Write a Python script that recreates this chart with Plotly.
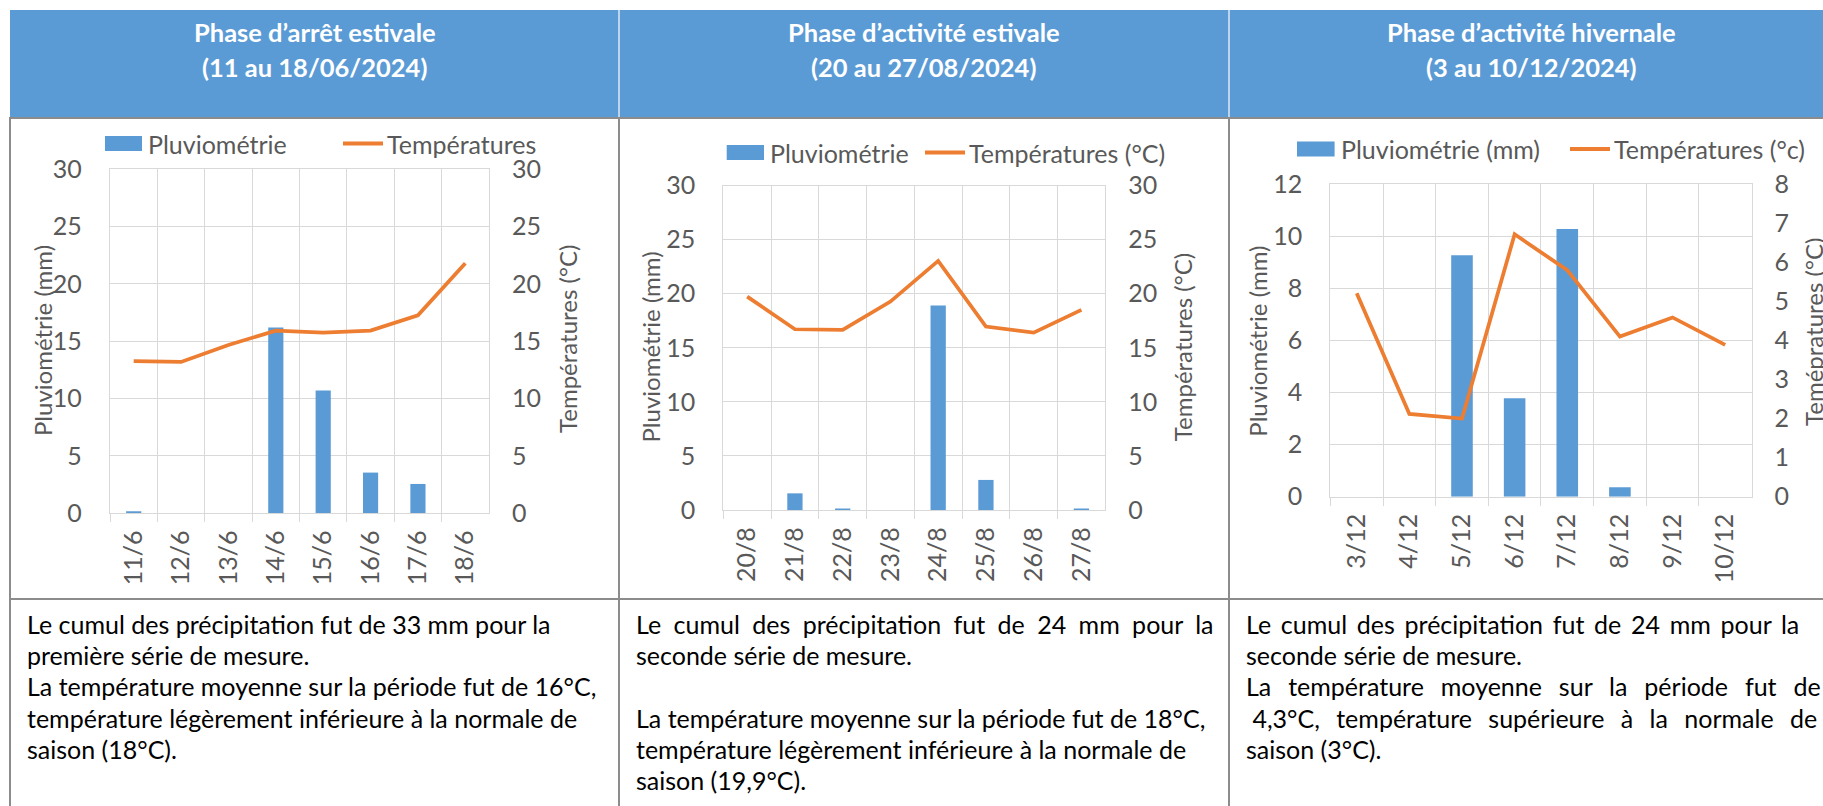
import plotly.graph_objects as go

# ---- data -------------------------------------------------------------
dates_juin = ["11/6", "12/6", "13/6", "14/6", "15/6", "16/6", "17/6", "18/6"]
pluie_juin = [0.12, 0, 0, 16.2, 10.7, 3.55, 2.56, 0]
temp_juin = [13.28, 13.2, 14.68, 15.93, 15.76, 15.93, 17.27, 21.8]

dates_aout = ["20/8", "21/8", "22/8", "23/8", "24/8", "25/8", "26/8", "27/8"]
pluie_aout = [0, 1.54, 0.12, 0, 18.9, 2.78, 0, 0.12]
temp_aout = [19.73, 16.71, 16.65, 19.27, 23.03, 16.96, 16.4, 18.5]

dates_dec = ["3/12", "4/12", "5/12", "6/12", "7/12", "8/12", "9/12", "10/12"]
pluie_dec = [0, 0, 9.27, 3.78, 10.28, 0.36, 0, 0]
temp_dec = [5.21, 2.12, 2.0, 6.72, 5.8, 4.1, 4.59, 3.89]

titres = [
    ("Phase d’arrêt estivale", "(11 au 18/06/2024)"),
    ("Phase d’activité estivale", "(20 au 27/08/2024)"),
    ("Phase d’activité hivernale", "(3 au 10/12/2024)"),
]
legendes = [
    ("Pluviométrie", "Températures"),
    ("Pluviométrie", "Températures (°C)"),
    ("Pluviométrie (mm)", "Températures (°c)"),
]
titres_axes = [
    ("Pluviométrie (mm)", "Températures (°C)"),
    ("Pluviométrie (mm)", "Températures (°C)"),
    ("Pluviométrie (mm)", "Temépratures (°C)"),
]
# (text, extra word spacing in px for justified lines)
commentaires = [
    [("Le cumul des précipitation fut de 33 mm pour la", 0),
     ("première série de mesure.", 0),
     ("La température moyenne sur la période fut de 16°C,", 0),
     ("température légèrement inférieure à la normale de", 0),
     ("saison (18°C).", 0)],
    [("Le cumul des précipitation fut de 24 mm pour la", 6.0),
     ("seconde série de mesure.", 0),
     ("", 0),
     ("La température moyenne sur la période fut de 18°C,", 0),
     ("température légèrement inférieure à la normale de", 0),
     ("saison (19,9°C).", 0)],
    [("Le cumul des précipitation fut de 24 mm pour la", 3.3),
     ("seconde série de mesure.", 0),
     ("La température moyenne sur la période fut de", 10.5),
     (" 4,3°C, température supérieure à la normale de", 10.0),
     ("saison (3°C).", 0)],
]

# ---- page geometry (pixels) -------------------------------------------
W, H = 1823, 806
FONT = "Lato"
BLEU = "#5B9BD5"
ORANGE = "#ED7D31"
GRIS_TXT = "#595959"
GRILLE = "#D9D9D9"
BORD = "#8C8C8C"
FS = 25
NBSP = "\u00a0"


def px(x):
    return x / W


def py(y):
    return 1 - y / H


def justifie(ligne, extra):
    """Widen the word gaps of a line by `extra` pixels each."""
    tete = NBSP if ligne.startswith(" ") else ""
    corps = ligne.strip()
    if extra:
        return f'{tete}<span style="word-spacing:{extra}px">{corps}</span>'
    return tete + corps


panneaux = [
    dict(dates=dates_juin, pluie=pluie_juin, temp=temp_juin,
         plot=(110, 489, 169.3, 513.3), y1=(0, 30, 5), y2=(0, 30, 5), bw=0.32,
         leg=(105, 142, 143.5, 343, 383), tit=(42, 341, 568, 339), col=(10, 619)),
    dict(dates=dates_aout, pluie=pluie_aout, temp=temp_aout,
         plot=(723.3, 1105.3, 185.5, 510), y1=(0, 30, 5), y2=(0, 30, 5), bw=0.32,
         leg=(726.7, 764, 152.5, 925, 965), tit=(650, 347.5, 1182.7, 347.5), col=(619, 1229)),
    dict(dates=dates_dec, pluie=pluie_dec, temp=temp_dec,
         plot=(1330.4, 1751.5, 184.3, 496.7), y1=(0, 12, 2), y2=(0, 8, 1), bw=0.41,
         leg=(1297, 1334.6, 149, 1570, 1610), tit=(1256.7, 341, 1813, 332), col=(1229, 1834)),
]

fig = go.Figure()
layout = dict(
    width=W, height=H, autosize=False,
    margin=dict(l=0, r=0, t=0, b=0, pad=0, autoexpand=False),
    paper_bgcolor="white", plot_bgcolor="white", showlegend=False,
    font=dict(family=FONT, color=GRIS_TXT),
)
shapes = []
annotations = []

tick_font = dict(family=FONT, size=FS, color=GRIS_TXT)

for i, p in enumerate(panneaux):
    xa = "x" if i == 0 else f"x{i + 1}"
    ya = "y" if i == 0 else f"y{2 * i + 1}"
    yb = f"y{2 * i + 2}"
    xl, xr, yt, yb_px = p["plot"]

    fig.add_trace(go.Bar(x=p["dates"], y=p["pluie"], xaxis=xa, yaxis=ya,
                         marker=dict(color=BLEU, line=dict(width=0)), width=p["bw"]))
    fig.add_trace(go.Scatter(x=p["dates"], y=p["temp"], xaxis=xa, yaxis=yb, mode="lines",
                             line=dict(color=ORANGE, width=3.75), cliponaxis=False))

    xkey = "xaxis" if i == 0 else f"xaxis{i + 1}"
    ykey = "yaxis" if i == 0 else f"yaxis{2 * i + 1}"
    ykey2 = f"yaxis{2 * i + 2}"
    layout[xkey] = dict(
        domain=[px(xl), px(xr)], anchor=ya, type="category", automargin=False,
        range=[-0.5, len(p["dates"]) - 0.5], tickson="boundaries",
        ticks="outside", ticklen=8, tickwidth=1.3, tickcolor=GRILLE,
        showgrid=True, gridcolor=GRILLE, gridwidth=1.3,
        showline=True, linecolor=GRILLE, linewidth=1.3, mirror=True,
        tickangle=-90, tickfont=tick_font, ticklabelstandoff=6, fixedrange=True,
    )
    lo, hi, step = p["y1"]
    layout[ykey] = dict(
        domain=[py(yb_px), py(yt)], anchor=xa, range=[lo, hi], dtick=step, automargin=False,
        showgrid=True, gridcolor=GRILLE, gridwidth=1.3, zeroline=False,
        showline=True, linecolor=GRILLE, linewidth=1.3, mirror=True,
        ticks="", tickfont=tick_font, ticklabelstandoff=22, fixedrange=True,
    )
    lo2, hi2, step2 = p["y2"]
    layout[ykey2] = dict(
        overlaying=ya, anchor=xa, side="right", range=[lo2, hi2], dtick=step2,
        automargin=False, showgrid=False, zeroline=False, showline=False,
        ticks="", tickfont=tick_font, ticklabelstandoff=22, fixedrange=True,
    )

    # legend, drawn by hand
    bx0, bx1, ly, lx0, lx1 = p["leg"]
    shapes.append(dict(type="rect", xref="paper", yref="paper",
                       x0=px(bx0), x1=px(bx1), y0=py(ly - 7.5), y1=py(ly + 7.5),
                       fillcolor=BLEU, line=dict(width=0)))
    shapes.append(dict(type="line", xref="paper", yref="paper",
                       x0=px(lx0), x1=px(lx1), y0=py(ly), y1=py(ly),
                       line=dict(color=ORANGE, width=4)))
    annotations.append(dict(text=legendes[i][0], xref="paper", yref="paper",
                            x=px(bx1 + 4), y=py(ly), xanchor="left", yanchor="middle",
                            showarrow=False, font=dict(family=FONT, size=FS, color=GRIS_TXT)))
    annotations.append(dict(text=legendes[i][1], xref="paper", yref="paper",
                            x=px(lx1 + 2), y=py(ly), xanchor="left", yanchor="middle",
                            showarrow=False, font=dict(family=FONT, size=FS, color=GRIS_TXT)))

    # axis titles
    tx1, ty1, tx2, ty2 = p["tit"]
    annotations.append(dict(text=titres_axes[i][0], xref="paper", yref="paper",
                            x=px(tx1), y=py(ty1), xanchor="center", yanchor="middle",
                            textangle=-90, showarrow=False,
                            font=dict(family=FONT, size=24, color=GRIS_TXT)))
    annotations.append(dict(text=titres_axes[i][1], xref="paper", yref="paper",
                            x=px(tx2), y=py(ty2), xanchor="center", yanchor="middle",
                            textangle=-90, showarrow=False,
                            font=dict(family=FONT, size=24, color=GRIS_TXT)))

    # header titles
    c0, c1 = p["col"]
    cx = (c0 + c1) / 2
    for txt, yy in ((titres[i][0], 32), (titres[i][1], 67)):
        annotations.append(dict(text=f"<b>{txt}</b>", xref="paper", yref="paper",
                                x=px(cx), y=py(yy), xanchor="center", yanchor="middle",
                                showarrow=False, font=dict(family=FONT, size=25.5, color="white")))

    # comment lines below the charts
    for k, (ligne, extra) in enumerate(commentaires[i]):
        if not ligne:
            continue
        annotations.append(dict(text=justifie(ligne, extra), xref="paper", yref="paper",
                                x=px(c0 + 15), y=py(624 + 31.2 * k),
                                xanchor="left", yanchor="middle", showarrow=False,
                                font=dict(family=FONT, size=FS, color="black")))

# table frame
shapes.insert(0, dict(type="rect", xref="paper", yref="paper", layer="below",
                      x0=px(10), x1=px(1840), y0=py(10), y1=py(118),
                      fillcolor=BLEU, line=dict(width=0)))
for xs in (619, 1229):
    shapes.append(dict(type="line", xref="paper", yref="paper",
                       x0=px(xs), x1=px(xs), y0=py(10), y1=py(117),
                       line=dict(color="#DCE8F5", width=1.5)))
    shapes.append(dict(type="line", xref="paper", yref="paper",
                       x0=px(xs), x1=px(xs), y0=py(118), y1=py(810),
                       line=dict(color=BORD, width=2)))
shapes.append(dict(type="line", xref="paper", yref="paper",
                   x0=px(10), x1=px(10), y0=py(118), y1=py(810),
                   line=dict(color=BORD, width=2)))
for ys in (118, 599):
    shapes.append(dict(type="line", xref="paper", yref="paper",
                       x0=px(9), x1=px(1840), y0=py(ys), y1=py(ys),
                       line=dict(color=BORD, width=2)))

layout["shapes"] = shapes
layout["annotations"] = annotations
fig.update_layout(**layout)
fig.write_html("out.html", config={"displayModeBar": False},
               post_script="document.body.style.margin='0';")
